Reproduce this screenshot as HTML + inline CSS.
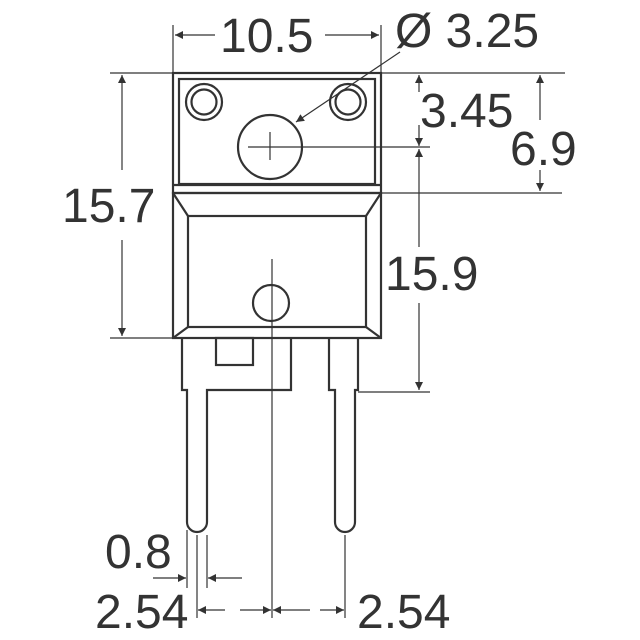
<!DOCTYPE html>
<html><head><style>body{margin:0;background:#fff}svg{display:block}</style></head><body>
<svg width="640" height="640" viewBox="0 0 640 640" xmlns="http://www.w3.org/2000/svg">
<defs>
<marker id="a" viewBox="0 0 10 10" refX="10" refY="5" markerWidth="10" markerHeight="8" markerUnits="userSpaceOnUse" orient="auto"><path d="M0,0L10,5L0,10z" fill="#333"/></marker>
</defs>
<g fill="none" stroke="#333" stroke-width="2.2">
<rect x="173" y="73" width="208" height="120"/>
<rect x="179" y="79" width="196" height="105"/>
<line x1="173" y1="185" x2="381" y2="185"/>
<rect x="173" y="193" width="208" height="145"/>
<rect x="188" y="216" width="178" height="111"/>
<line x1="173" y1="193" x2="188" y2="216"/><line x1="381" y1="193" x2="366" y2="216"/>
<line x1="173" y1="338" x2="188" y2="327"/><line x1="381" y1="338" x2="366" y2="327"/>
<circle cx="204" cy="102" r="18"/><circle cx="204" cy="102" r="12.5"/>
<circle cx="348" cy="102" r="18"/><circle cx="348" cy="102" r="12.5"/>
<circle cx="270" cy="147" r="32"/>
<circle cx="271" cy="303" r="18"/>
<rect x="216" y="338" width="37" height="27"/>
<path d="M182,338V390H187V522A10,10 0 0 0 207,522V390H291V338"/>
<path d="M329,338V390H335V522A10,10 0 0 0 355,522V390H358V338"/>
</g>
<g fill="none" stroke="#333" stroke-width="1.2">
<line x1="270" y1="132" x2="270" y2="160"/><line x1="248" y1="147" x2="430" y2="147"/>
<line x1="272" y1="259" x2="272" y2="618"/>
<line x1="173" y1="25" x2="173" y2="73"/><line x1="381" y1="25" x2="381" y2="73"/>
<line x1="110" y1="73" x2="565" y2="73"/>
<line x1="381" y1="193" x2="562" y2="193"/>
<line x1="110" y1="338" x2="173" y2="338"/>
<line x1="358" y1="392" x2="430" y2="392"/>
<line x1="215" y1="35" x2="175" y2="35" marker-end="url(#a)"/>
<line x1="325" y1="35" x2="379" y2="35" marker-end="url(#a)"/>
<line x1="400" y1="52" x2="296" y2="122" marker-end="url(#a)"/>
<line x1="122" y1="170" x2="122" y2="75" marker-end="url(#a)"/>
<line x1="122" y1="240" x2="122" y2="336" marker-end="url(#a)"/>
<line x1="419" y1="92" x2="419" y2="75" marker-end="url(#a)"/>
<line x1="419" y1="125" x2="419" y2="146" marker-end="url(#a)"/>
<line x1="419" y1="247" x2="419" y2="149" marker-end="url(#a)"/>
<line x1="419" y1="303" x2="419" y2="390" marker-end="url(#a)"/>
<line x1="540" y1="120" x2="540" y2="75" marker-end="url(#a)"/>
<line x1="540" y1="170" x2="540" y2="191" marker-end="url(#a)"/>
<line x1="187" y1="530" x2="187" y2="588"/><line x1="207" y1="535" x2="207" y2="588"/>
<line x1="197" y1="535" x2="197" y2="618"/><line x1="345" y1="535" x2="345" y2="618"/>
<line x1="153" y1="578" x2="186" y2="578" marker-end="url(#a)"/>
<line x1="242" y1="578" x2="208" y2="578" marker-end="url(#a)"/>
<line x1="225" y1="610" x2="198" y2="610" marker-end="url(#a)"/>
<line x1="240" y1="610" x2="271" y2="610" marker-end="url(#a)"/>
<line x1="310" y1="610" x2="273" y2="610" marker-end="url(#a)"/>
<line x1="320" y1="610" x2="344" y2="610" marker-end="url(#a)"/>
</g>
<g font-family="Liberation Sans, sans-serif" font-size="48" fill="#333">
<text x="220" y="52">10.5</text>
<text x="395" y="47">Ø 3.25</text>
<text x="420" y="127">3.45</text>
<text x="510" y="165">6.9</text>
<text x="62" y="222">15.7</text>
<text x="385" y="290">15.9</text>
<text x="105" y="568">0.8</text>
<text x="95" y="628">2.54</text>
<text x="357" y="628">2.54</text>
</g>
</svg>
</body></html>
